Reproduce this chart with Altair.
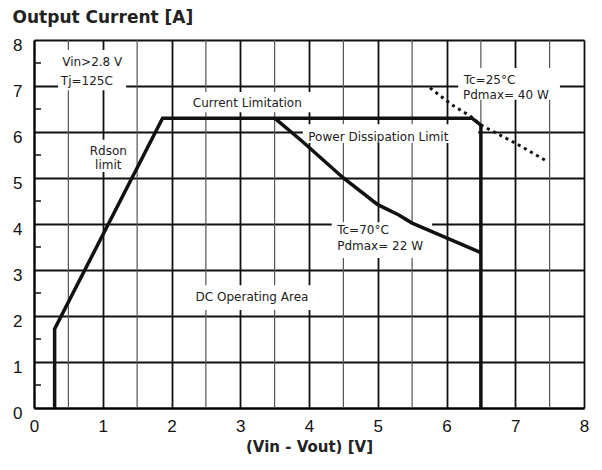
import altair as alt
import pandas as pd

# Safe operating area boundary (Rdson limit, current limitation, Vin-Vout limit)
boundary_x = [0.3, 0.3, 1.87, 3.5, 6.37, 6.5, 6.5]
boundary_y = [0.0, 1.72, 6.3, 6.3, 6.3, 6.15, 0.0]

# Power dissipation limit, Tc = 70 C
tc70_x = [3.5, 3.9, 4.5, 5.0, 5.3, 5.5, 6.0, 6.5]
tc70_y = [6.3, 5.8, 5.0, 4.42, 4.2, 4.02, 3.7, 3.38]

# Power dissipation limit, Tc = 25 C (dotted)
tc25_x = [5.76, 6.08, 6.34, 6.5, 7.0, 7.48]
tc25_y = [6.96, 6.59, 6.35, 6.15, 5.76, 5.35]

x_major = [0, 1, 2, 3, 4, 5, 6, 7, 8]
x_minor = [0.5, 1.5, 2.5, 3.5, 4.5, 5.5, 6.5, 7.5]
y_ticks = [0, 1, 2, 3, 4, 5, 6, 7, 8]
y_minor = [0.5, 1.5, 2.5, 3.5, 4.5, 5.5, 6.5, 7.5]

# annotation texts and their anchor (data units)
label_text = ["Vin>2.8 V", "Tj=125C", "Current  Limitation", "Rdson", "limit",
              "Power Dissipation  Limit", "Tc=25°C", "Pdmax= 40 W",
              "Tc=70°C", "Pdmax= 22 W", "DC Operating Area"]
label_x = [0.41, 0.39, 2.31, 1.08, 1.08, 3.99, 6.25, 6.24, 4.41, 4.41, 2.35]
label_y = [7.52, 7.1, 6.63, 5.59, 5.28, 5.89, 7.13, 6.8, 3.86, 3.52, 2.41]
label_align = ["left", "left", "left", "center", "center", "left", "left", "left",
               "left", "left", "left"]

# white backgrounds behind annotations (data units)
box_x1 = [0.35, 2.24, 0.7, 3.91, 6.17, 4.33, 2.27]
box_x2 = [1.34, 4.26, 1.47, 6.46, 7.65, 5.79, 4.33]
box_y1 = [6.91, 6.43, 5.13, 5.76, 6.70, 3.26, 2.13]
box_y2 = [7.78, 6.87, 5.83, 6.17, 7.39, 4.04, 2.67]

FONT = "Liberation Sans"
AFONT = "DejaVu Sans"

bdf = pd.DataFrame({"x": boundary_x, "y": boundary_y, "o": range(len(boundary_x))})
t70 = pd.DataFrame({"x": tc70_x, "y": tc70_y, "o": range(len(tc70_x))})
t25 = pd.DataFrame({"x": tc25_x, "y": tc25_y, "o": range(len(tc25_x))})
labels = pd.DataFrame({"t": label_text, "x": label_x, "y": label_y, "a": label_align})
boxes = pd.DataFrame({"x1": box_x1, "x2": box_x2, "y1": box_y1, "y2": box_y2})
minor = pd.DataFrame({"y": y_minor})
xmin_df = pd.DataFrame({"x": x_minor})

xscale = alt.Scale(domain=[0, 8], nice=False)
yscale = alt.Scale(domain=[0, 8], nice=False)

xaxis = alt.Axis(
    title="(Vin - Vout)  [V]", values=x_major, format="d",
    ticks=False, labelPadding=10, labelFontSize=17, labelFont=FONT, labelColor="#111",
    titleFont=AFONT, titleFontSize=15, titleFontWeight="bold", titlePadding=5,
    titleColor="#222",
    domainColor="black", domainWidth=2,
    gridColor="#111", gridWidth=1.8, gridOpacity=1, labelFlush=False,
)
yaxis = alt.Axis(
    title=None, values=y_ticks, ticks=False, labelPadding=12, labelFontSize=17,
    labelFont=FONT, labelColor="#111", labelBaseline="middle", labelOffset=5,
    domainColor="black", domainWidth=2, gridColor="#111", gridWidth=1.8, gridOpacity=1,
    labelFlush=False,
)

base_axes = alt.Chart(bdf).mark_point(opacity=0).encode(
    x=alt.X("x:Q", scale=xscale, axis=xaxis),
    y=alt.Y("y:Q", scale=yscale, axis=yaxis),
)

minor_grid = alt.Chart(xmin_df).mark_rule(color="#555", strokeWidth=1.2).encode(
    x=alt.X("x:Q", scale=xscale), y=alt.value(0), y2=alt.value(368)
)

minor_ticks = alt.Chart(minor).mark_rule(color="#111", strokeWidth=1.5).encode(
    x=alt.value(0), x2=alt.value(7), y=alt.Y("y:Q", scale=yscale)
)

bg = alt.Chart(boxes).mark_rect(color="white").encode(
    x=alt.X("x1:Q", scale=xscale), x2="x2:Q",
    y=alt.Y("y1:Q", scale=yscale), y2="y2:Q",
)

bline = alt.Chart(bdf).mark_line(color="#111", strokeWidth=3.5, strokeJoin="miter").encode(
    x=alt.X("x:Q", scale=xscale), y=alt.Y("y:Q", scale=yscale), order="o:Q"
)
l70 = alt.Chart(t70).mark_line(color="#111", strokeWidth=3.5).encode(
    x=alt.X("x:Q", scale=xscale), y=alt.Y("y:Q", scale=yscale), order="o:Q"
)
l25 = alt.Chart(t25).mark_line(color="#111", strokeWidth=3, strokeDash=[3, 4]).encode(
    x=alt.X("x:Q", scale=xscale), y=alt.Y("y:Q", scale=yscale), order="o:Q"
)

txt_left = alt.Chart(labels[labels.a == "left"]).mark_text(
    align="left", baseline="middle", font=AFONT, fontSize=12, color="#222"
).encode(x=alt.X("x:Q", scale=xscale), y=alt.Y("y:Q", scale=yscale), text="t:N")
txt_center = alt.Chart(labels[labels.a == "center"]).mark_text(
    align="center", baseline="middle", font=AFONT, fontSize=12, color="#222"
).encode(x=alt.X("x:Q", scale=xscale), y=alt.Y("y:Q", scale=yscale), text="t:N")

chart = alt.layer(
    base_axes, minor_grid, minor_ticks, bg, bline, l70, l25, txt_left, txt_center
).properties(
    width=550, height=368,
    title=alt.TitleParams("Output Current  [A]", anchor="start", font=AFONT,
                          fontSize=17, fontWeight="bold", offset=9, color="#222"),
    autosize=alt.AutoSizeParams(type="none"),
    padding={"left": 26, "top": 32, "right": 10, "bottom": 46},
).configure_view(stroke=None)

chart.save("out.html", embed_options={"renderer": "svg", "actions": False})
